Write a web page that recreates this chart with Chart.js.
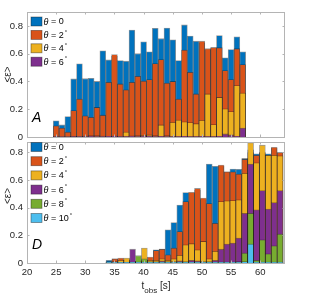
<!DOCTYPE html>
<html><head><meta charset="utf-8">
<script src="https://cdn.jsdelivr.net/npm/chart.js@4.4.0/dist/chart.umd.min.js"></script>
<style>
html,body{margin:0;padding:0;background:#fff;}
#wrap{position:relative;width:334px;height:300px;}
canvas{position:absolute;left:0;top:0;}
</style></head><body>
<div id="wrap"><canvas id="cA" width="334" height="300"></canvas><canvas id="cD" width="334" height="300"></canvas></div>
<script>
// ---------- data ----------
const xTicks = [20, 25, 30, 35, 40, 45, 50, 55, 60];
const yTicks = [0, 0.2, 0.4, 0.6, 0.8];

// Panel A: bin centres (s)
const tA = [25,26,27,28,29,30,31,32,33,34,35,36,37,38,39,40,41,42,43,44,45,46,47,48,49,50,51,52,53,54,55,56,57];
const A_theta0 = [0.116,0.087,0.147,0.418,0.527,0.420,0.423,0.400,0.620,0.555,0.580,0.550,0.546,0.770,0.600,0.686,0.613,0.783,0.708,0.785,0.700,0.550,0.807,0.727,0.690,0.680,0.630,0.640,0.730,0.570,0.630,0.722,0.614];
const A_theta2 = [0.080,0.065,0.036,0.190,0.273,0.152,0.142,0.213,0.157,0.394,0.594,0.382,0.340,0.394,0.437,0.403,0.413,0.529,0.558,0.389,0.400,0.273,0.626,0.466,0.310,0.690,0.636,0.645,0.643,0.478,0.413,0.636,0.522];
const A_theta4 = [0.005,0.003,0.004,0.004,0.005,0.006,0.010,0.010,0.006,0.005,0.006,0.005,0.035,0.008,0.010,0.012,0.015,0.010,0.087,0.010,0.106,0.122,0.110,0.104,0.096,0.120,0.310,0.090,0.285,0.203,0.183,0.370,0.317];
const A_theta6 = [0.004,0.003,0.003,0.004,0.004,0.004,0.005,0.004,0.004,0.005,0.006,0.004,0.004,0.005,0.004,0.005,0.006,0.004,0.005,0.004,0.004,0.004,0.005,0.004,0.004,0.005,0.004,0.004,0.005,0.022,0.015,0.005,0.065];

// Panel D: bin centres (s)
const tD = [34.06,35.07,36.08,37.10,38.11,39.12,40.13,41.14,42.16,43.17,44.18,45.19,46.20,47.22,48.23,49.24,50.25,51.26,52.28,53.29,54.30,55.31,56.32,57.34,58.35,59.36,60.37,61.38,62.40,63.41];
const D_theta0  = [0.020,0.030,0.020,0.025,0.010,0.010,0.010,0.020,0.095,0.100,0.240,0.293,0.420,0.510,0.505,0.530,0.460,0.716,0.700,0.700,0.660,0.680,0.678,0.757,0.820,0.790,0.800,0.790,0.830,0.800];
const D_theta2  = [0.010,0.030,0.036,0.020,0.010,0.010,0.020,0.043,0.090,0.100,0.060,0.108,0.228,0.445,0.512,0.540,0.470,0.430,0.288,0.709,0.660,0.660,0.644,0.750,0.800,0.780,0.800,0.780,0.837,0.800];
const D_theta4  = [0.005,0.010,0.020,0.036,0.010,0.010,0.108,0.020,0.020,0.030,0.020,0.030,0.055,0.132,0.140,0.095,0.156,0.030,0.084,0.445,0.450,0.452,0.457,0.650,0.870,0.726,0.853,0.780,0.780,0.776];
const D_theta6  = [0.003,0.003,0.003,0.005,0.100,0.010,0.010,0.005,0.010,0.015,0.010,0.010,0.015,0.010,0.020,0.015,0.010,0.010,0.020,0.100,0.137,0.144,0.180,0.360,0.716,0.385,0.524,0.390,0.437,0.524];
const D_theta8  = [0.003,0.003,0.003,0.003,0.005,0.053,0.030,0.010,0.005,0.005,0.005,0.005,0.005,0.005,0.005,0.005,0.005,0.005,0.005,0.005,0.005,0.005,0.010,0.072,0.360,0.020,0.168,0.067,0.125,0.210];
const D_theta10 = [0.006,0.006,0.005,0.005,0.005,0.006,0.006,0.005,0.005,0.006,0.006,0.006,0.006,0.006,0.006,0.006,0.006,0.006,0.006,0.006,0.006,0.006,0.006,0.010,0.137,0.006,0.006,0.006,0.006,0.006];

const anglesA = ['0', '2', '4', '6'];
const anglesD = ['0', '2', '4', '6', '8', '10'];
const colors = ['#0072BD', '#D95319', '#EDB120', '#7E2F8E', '#77AC30', '#4DBEEE'];

// ---------- helpers ----------
const FONT = '"Liberation Sans", Arial, sans-serif';
const AX = '#262626';

function makeDatasets(xs, series, angles) {
  return series.map((ys, i) => ({
    label: 'θ = ' + angles[i],
    data: xs.map((x, j) => ({ x: x, y: ys[j] })),
    backgroundColor: colors[i],
    borderColor: 'rgba(25,25,25,0.45)',
    borderWidth: 0.8,
    grouped: false,
    barPercentage: 1,
    categoryPercentage: 1,
    order: series.length - i
  }));
}

function decorPlugin(cfg) {
  return {
    id: 'decor' + cfg.letter,
    afterDraw(chart) {
      const ctx = chart.ctx, a = chart.chartArea;
      const xs = chart.scales.x, ys = chart.scales.y;
      ctx.save();
      // box
      ctx.strokeStyle = '#b4b4b4';
      ctx.lineWidth = 1;
      ctx.strokeRect(Math.round(a.left) + 0.5, Math.round(a.top) + 0.5, Math.round(a.right - a.left) - 1, Math.round(a.bottom - a.top));
      // ticks
      ctx.beginPath();
      xTicks.forEach(v => {
        const px = Math.round(xs.getPixelForValue(v)) + 0.5;
        ctx.moveTo(px, a.top); ctx.lineTo(px, a.top + 2.5);
        ctx.moveTo(px, a.bottom); ctx.lineTo(px, a.bottom - 2.5);
      });
      yTicks.forEach(v => {
        const py = Math.round(ys.getPixelForValue(v)) + 0.5;
        ctx.moveTo(a.left, py); ctx.lineTo(a.left + 2.5, py);
        ctx.moveTo(a.right, py); ctx.lineTo(a.right - 2.5, py);
      });
      ctx.stroke();
      // legend
      const angles = cfg.angles;
      ctx.textBaseline = 'middle';
      angles.forEach((ang, i) => {
        const yc = cfg.legTop + i * cfg.legStep;
        ctx.fillStyle = colors[i];
        ctx.fillRect(31, yc - 4.5, 11, 9);
        ctx.strokeStyle = 'rgba(25,25,25,0.5)';
        ctx.lineWidth = 0.8;
        ctx.strokeRect(31, yc - 4.5, 11, 9);
        ctx.fillStyle = '#000';
        let x = 43.5;
        ctx.font = 'italic 9px ' + FONT;
        ctx.fillText('θ', x, yc + 0.5);
        x += ctx.measureText('θ').width;
        ctx.font = '9px ' + FONT;
        const s = ' = ' + ang;
        ctx.fillText(s, x, yc + 0.5);
        x += ctx.measureText(s).width;
        if (ang !== '0') {
          ctx.font = '6px ' + FONT;
          ctx.fillText('°', x + 1, yc - 3);
        }
      });
      // panel letter
      ctx.fillStyle = '#000';
      ctx.font = 'italic 14px ' + FONT;
      ctx.textBaseline = 'alphabetic';
      ctx.textAlign = 'left';
      ctx.fillText(cfg.letter, 32, cfg.letterY);
      // y title
      ctx.save();
      ctx.translate(8, cfg.yTitleY);
      ctx.rotate(-Math.PI / 2);
      ctx.textAlign = 'center';
      ctx.textBaseline = 'middle';
      ctx.fillStyle = AX;
      ctx.font = '10px ' + FONT;
      ctx.fillText('<ε>', 0, 0);
      ctx.restore();
      // x title
      if (cfg.xTitle) {
        ctx.fillStyle = AX;
        ctx.font = '10px ' + FONT;
        const w1 = ctx.measureText('t').width;
        const w3 = ctx.measureText(' [s]').width;
        ctx.font = '8px ' + FONT;
        const w2 = ctx.measureText('obs').width;
        const total = w1 + w2 + w3;
        let x = (a.left + a.right) / 2 - total / 2;
        ctx.textBaseline = 'alphabetic';
        ctx.font = '10px ' + FONT;
        ctx.fillText('t', x, 289);
        x += w1;
        ctx.font = '8px ' + FONT;
        ctx.fillText('obs', x, 292.5);
        x += w2;
        ctx.font = '10px ' + FONT;
        ctx.fillText(' [s]', x, 289);
      }
      ctx.restore();
    }
  };
}

function makeChart(id, xs, series, angles, opts) {
  return new Chart(document.getElementById(id), {
    type: 'bar',
    data: { datasets: makeDatasets(xs, series, angles) },
    options: {
      responsive: false,
      animation: false,
      devicePixelRatio: 1,
      layout: { padding: opts.padding },
      plugins: { legend: { display: false }, tooltip: { enabled: false } },
      scales: {
        x: {
          type: 'linear', min: 20, max: 64.25, offset: false,
          display: opts.showX,
          grid: { display: false, drawTicks: false, offset: false },
          border: { display: false },
          afterBuildTicks: s => { s.ticks = xTicks.map(v => ({ value: v })); },
          afterFit: s => { s.height = opts.showX ? 37 : 0; },
          ticks: { padding: 4, maxRotation: 0, autoSkip: false, color: AX,
                   font: { family: FONT, size: 9.5 }, callback: v => String(v) }
        },
        y: {
          min: 0, max: opts.yMax,
          grid: { display: false, drawTicks: false },
          border: { display: false },
          afterBuildTicks: s => { s.ticks = yTicks.map(v => ({ value: v })); },
          afterFit: s => { s.width = 27; },
          ticks: { padding: 4, color: AX, font: { family: FONT, size: 9.5 },
                   callback: v => (v === 0 ? '0' : Number(v).toFixed(1)) }
        }
      }
    },
    plugins: [decorPlugin(opts)]
  });
}

makeChart('cA', tA, [A_theta0, A_theta2, A_theta4, A_theta6], anglesA, {
  padding: { top: 12, right: 49, bottom: 163, left: 0 },
  showX: false, yMax: 0.9, letter: 'A', letterY: 122,
  legTop: 21.5, legStep: 13.4, yTitleY: 74.5, angles: anglesA, xTitle: false
});
makeChart('cD', tD, [D_theta0, D_theta2, D_theta4, D_theta6, D_theta8, D_theta10], anglesD, {
  padding: { top: 142, right: 49, bottom: 0, left: 0 },
  showX: true, yMax: 0.876, letter: 'D', letterY: 248.5,
  legTop: 147, legStep: 14.2, yTitleY: 196, angles: anglesD, xTitle: true
});
</script>
</body></html>
